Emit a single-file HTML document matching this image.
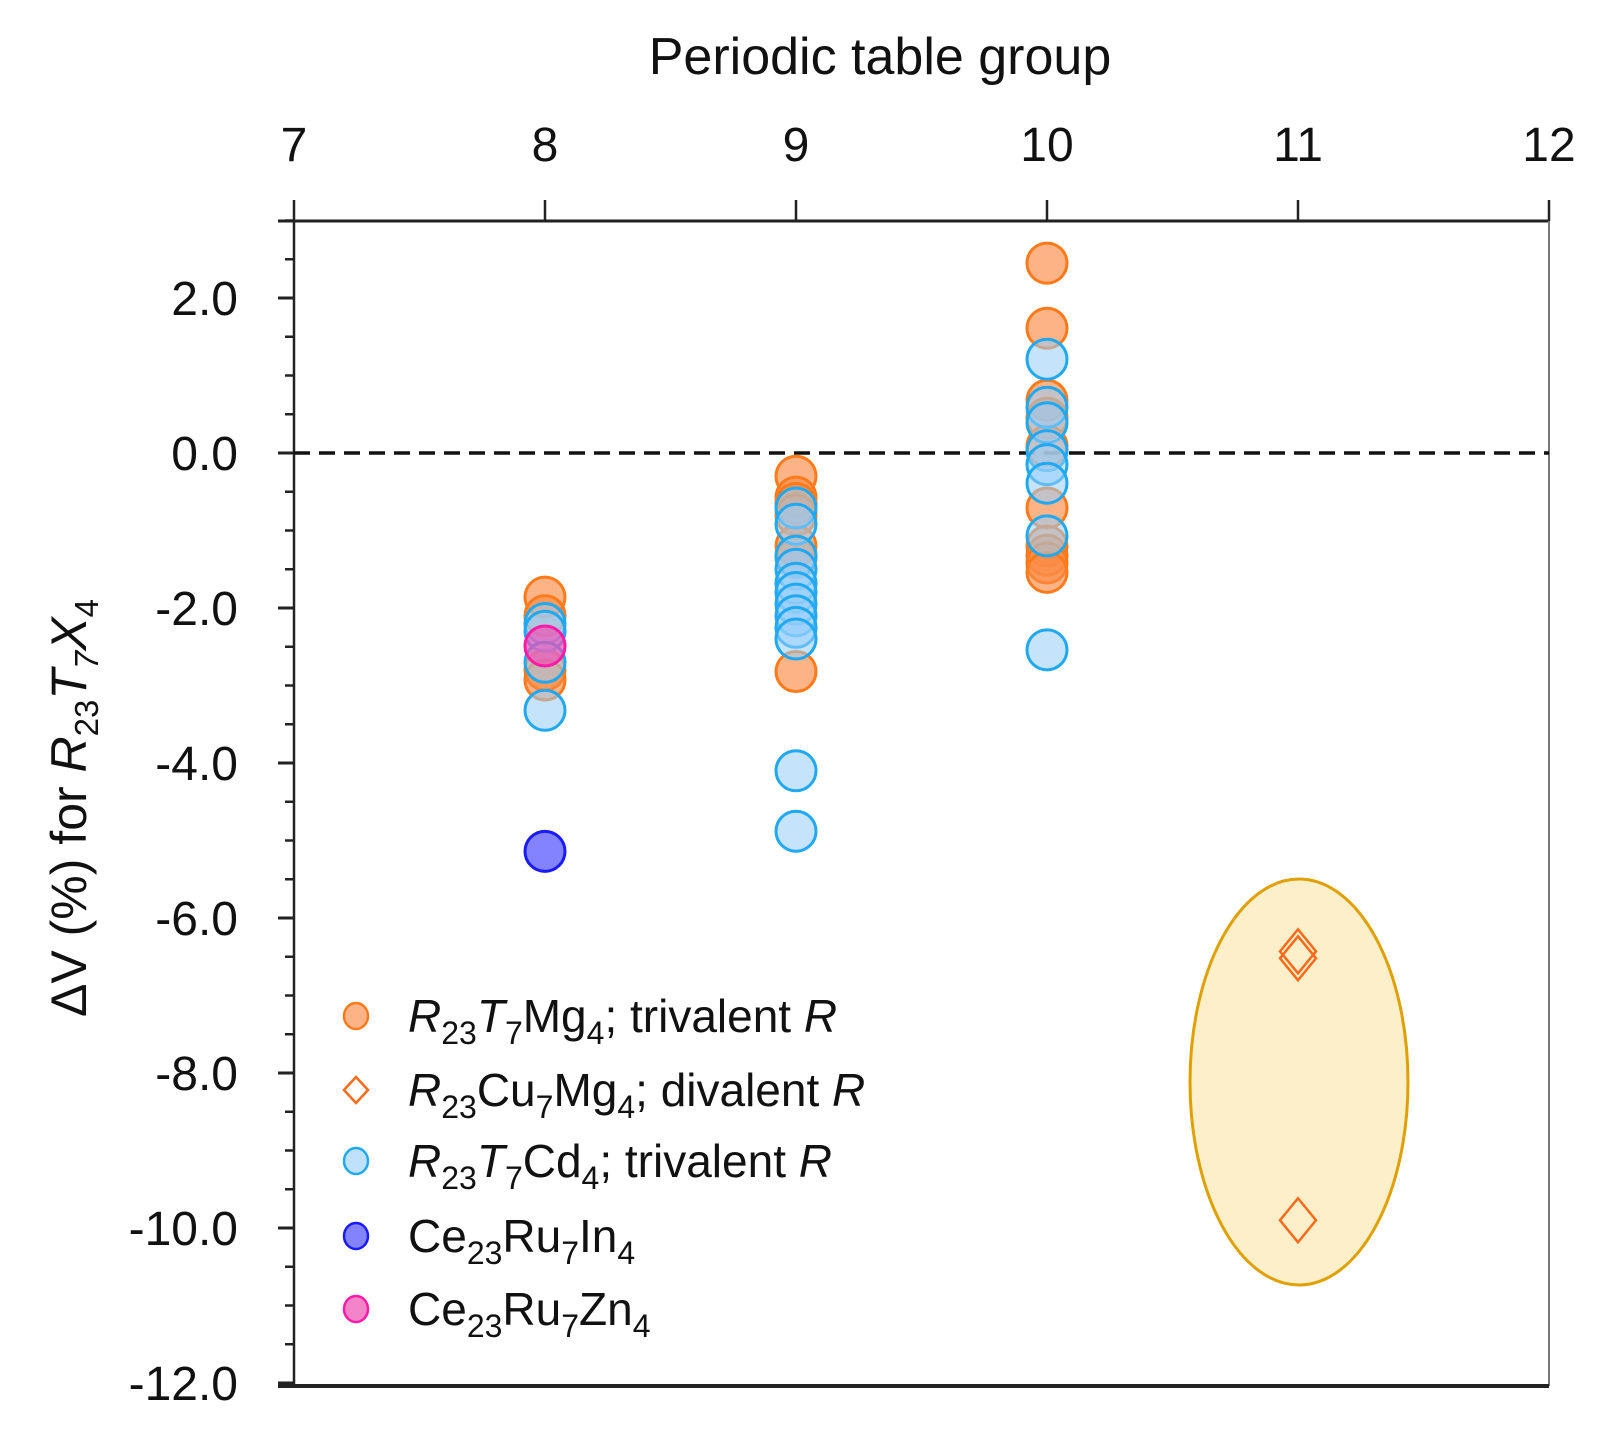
<!DOCTYPE html>
<html><head><meta charset="utf-8"><style>
html,body{margin:0;padding:0;background:#fff;}
svg{display:block;font-family:"Liberation Sans",sans-serif;}
</style></head><body>
<svg id="chart" width="1620" height="1440" viewBox="0 0 1620 1440" xmlns="http://www.w3.org/2000/svg"></svg>
<script>
const xTicks=[7,8,9,10,11,12];
const yTicks=[2,0,-2,-4,-6,-8,-10,-12];
const mgX=[8,8,8,8,9,9,9,9,9,9,9,10,10,10,10,10,10,10,10,10,10];
const mgY=[-1.86,-2.1,-2.8,-2.93,-0.3,-0.57,-0.65,-0.8,-1.2,-1.35,-2.82,2.45,1.61,0.68,0.45,0.09,-0.71,-1.2,-1.32,-1.42,-1.54];
const cdX=[8,8,8,8,9,9,9,9,9,9,9,9,9,9,9,9,10,10,10,10,10,10,10,10];
const cdY=[-2.2,-2.3,-2.7,-3.32,-0.71,-0.92,-1.33,-1.5,-1.68,-1.8,-1.95,-2.1,-2.25,-2.4,-4.1,-4.88,1.21,0.59,0.39,0.03,-0.15,-0.39,-1.07,-2.54];
const cuX=[11,11,11];
const cuY=[-6.43,-6.52,-9.9];
const inX=[8], inY=[-5.14];
const znX=[8], znY=[-2.49];
const NS="http://www.w3.org/2000/svg";
const svg=document.getElementById('chart');
const X0=294,X1=1549,Y0=453,YS=77.5;
function sx(v){return X0+(v-7)*(X1-X0)/5;}
function sy(v){return Y0-v*YS;}
function mk(t,a,p){const e=document.createElementNS(NS,t);for(const k in a)e.setAttribute(k,a[k]);(p||svg).appendChild(e);return e;}
let el=mk('ellipse',{cx:1299,cy:1082,rx:109,ry:203,fill:'#fdefc9',stroke:'#e0a000','stroke-width':3});


let ax=mk('g',{});


mk('line',{x1:278,y1:221,x2:X1,y2:221,stroke:'#222','stroke-width':3},ax);
mk('line',{x1:X0,y1:221,x2:X0,y2:1386,stroke:'#222','stroke-width':2.5},ax);
mk('line',{x1:X1,y1:221,x2:X1,y2:1386,stroke:'#777','stroke-width':2},ax);
mk('line',{x1:278,y1:1386,x2:X1,y2:1386,stroke:'#222','stroke-width':4},ax);
mk('line',{x1:X0,y1:Y0,x2:X1,y2:Y0,stroke:'#111','stroke-width':3.5,'stroke-dasharray':'16,9'},ax);
for(let v=-12;v<=3.001;v+=0.5){const y=sy(v);const major=Math.abs(v%2)<1e-6;mk('line',{x1:major?278:285,y1:y,x2:X0,y2:y,stroke:'#222','stroke-width':major?3:2.5},ax);}
xTicks.forEach(v=>{mk('line',{x1:sx(v),y1:200,x2:sx(v),y2:221,stroke:'#222','stroke-width':2.5},ax);
 const t=mk('text',{x:sx(v),y:161,'font-size':48,'text-anchor':'middle',fill:'#111'},ax);t.textContent=v;
 
 });
yTicks.forEach(v=>{const t=mk('text',{x:238,y:sy(v)+17,'font-size':48,'text-anchor':'end',fill:'#111'},ax);t.textContent=v.toFixed(1);
 
 });
let xt=mk('text',{x:880,y:74,'font-size':52,'text-anchor':'middle',fill:'#111'});
xt.textContent='Periodic table group';


let yt=mk('text',{x:0,y:0,'font-size':50,'text-anchor':'middle',fill:'#111',transform:'translate(86,808) rotate(-90)'});
yt.innerHTML='ΔV (%) for <tspan font-style="italic">R</tspan><tspan font-size="33" dy="12">23</tspan><tspan font-style="italic" dy="-12">T</tspan><tspan font-size="33" dy="12" font-style="italic">7</tspan><tspan font-style="italic" dy="-12">X</tspan><tspan font-size="33" dy="12">4</tspan>';


function circles(xs,ys,fill,stroke,name,r){const g=mk('g',{});
 
 
 xs.forEach((x,i)=>{const c=mk('circle',{cx:sx(x),cy:sy(ys[i]),r:r,fill:fill,stroke:stroke,'stroke-width':3},g);
 
 });}
circles(mgX,mgY,'rgba(250,140,70,0.65)','#ff7a1a','mg-series',20);
circles(cdX,cdY,'rgba(150,205,250,0.55)','#20a8f0','cd-series',20);
circles(inX,inY,'rgba(100,100,255,0.8)','#1a1aff','in-series',20);
circles(znX,znY,'rgba(240,80,180,0.7)','#ff1aa8','zn-series',20);
const dg=mk('g',{});


cuX.forEach((x,i)=>{const cx=sx(x),cy=sy(cuY[i]);const d=mk('polygon',{points:`${cx},${cy-22} ${cx+18},${cy} ${cx},${cy+22} ${cx-18},${cy}`,fill:'none',stroke:'#ff6a1a','stroke-width':2.5},dg);
 
 });
const lg=mk('g',{});


const leg=[
 [1016,'c','rgba(250,140,70,0.65)','#ff7a1a','<tspan font-style="italic">R</tspan><tspan font-size="32" dy="12">23</tspan><tspan font-style="italic" dy="-12">T</tspan><tspan font-size="32" dy="12">7</tspan><tspan dy="-12">Mg</tspan><tspan font-size="32" dy="12">4</tspan><tspan dy="-12">; trivalent </tspan><tspan font-style="italic">R</tspan>'],
 [1090,'d','none','#ff6a1a','<tspan font-style="italic">R</tspan><tspan font-size="32" dy="12">23</tspan><tspan dy="-12">Cu</tspan><tspan font-size="32" dy="12">7</tspan><tspan dy="-12">Mg</tspan><tspan font-size="32" dy="12">4</tspan><tspan dy="-12">; divalent </tspan><tspan font-style="italic">R</tspan>'],
 [1161,'c','rgba(150,205,250,0.6)','#20a8f0','<tspan font-style="italic">R</tspan><tspan font-size="32" dy="12">23</tspan><tspan font-style="italic" dy="-12">T</tspan><tspan font-size="32" dy="12">7</tspan><tspan dy="-12">Cd</tspan><tspan font-size="32" dy="12">4</tspan><tspan dy="-12">; trivalent </tspan><tspan font-style="italic">R</tspan>'],
 [1236,'c','rgba(100,100,255,0.8)','#1a1aff','Ce<tspan font-size="32" dy="12">23</tspan><tspan dy="-12">Ru</tspan><tspan font-size="32" dy="12">7</tspan><tspan dy="-12">In</tspan><tspan font-size="32" dy="12">4</tspan>'],
 [1309,'c','rgba(240,80,180,0.7)','#ff1aa8','Ce<tspan font-size="32" dy="12">23</tspan><tspan dy="-12">Ru</tspan><tspan font-size="32" dy="12">7</tspan><tspan dy="-12">Zn</tspan><tspan font-size="32" dy="12">4</tspan>']];
leg.forEach(l=>{const g=mk('g',{},lg);
 
 
 if(l[1]==='c')mk('ellipse',{cx:356,cy:l[0],rx:12,ry:13,fill:l[2],stroke:l[3],'stroke-width':2.5},g);
 else mk('polygon',{points:`356,${l[0]-13} 368,${l[0]} 356,${l[0]+13} 344,${l[0]}`,fill:'none',stroke:l[3],'stroke-width':2.5},g);
 const t=mk('text',{x:408,y:l[0]+16,'font-size':46,fill:'#111'},g);t.innerHTML=l[4];});
</script>
</body></html>
